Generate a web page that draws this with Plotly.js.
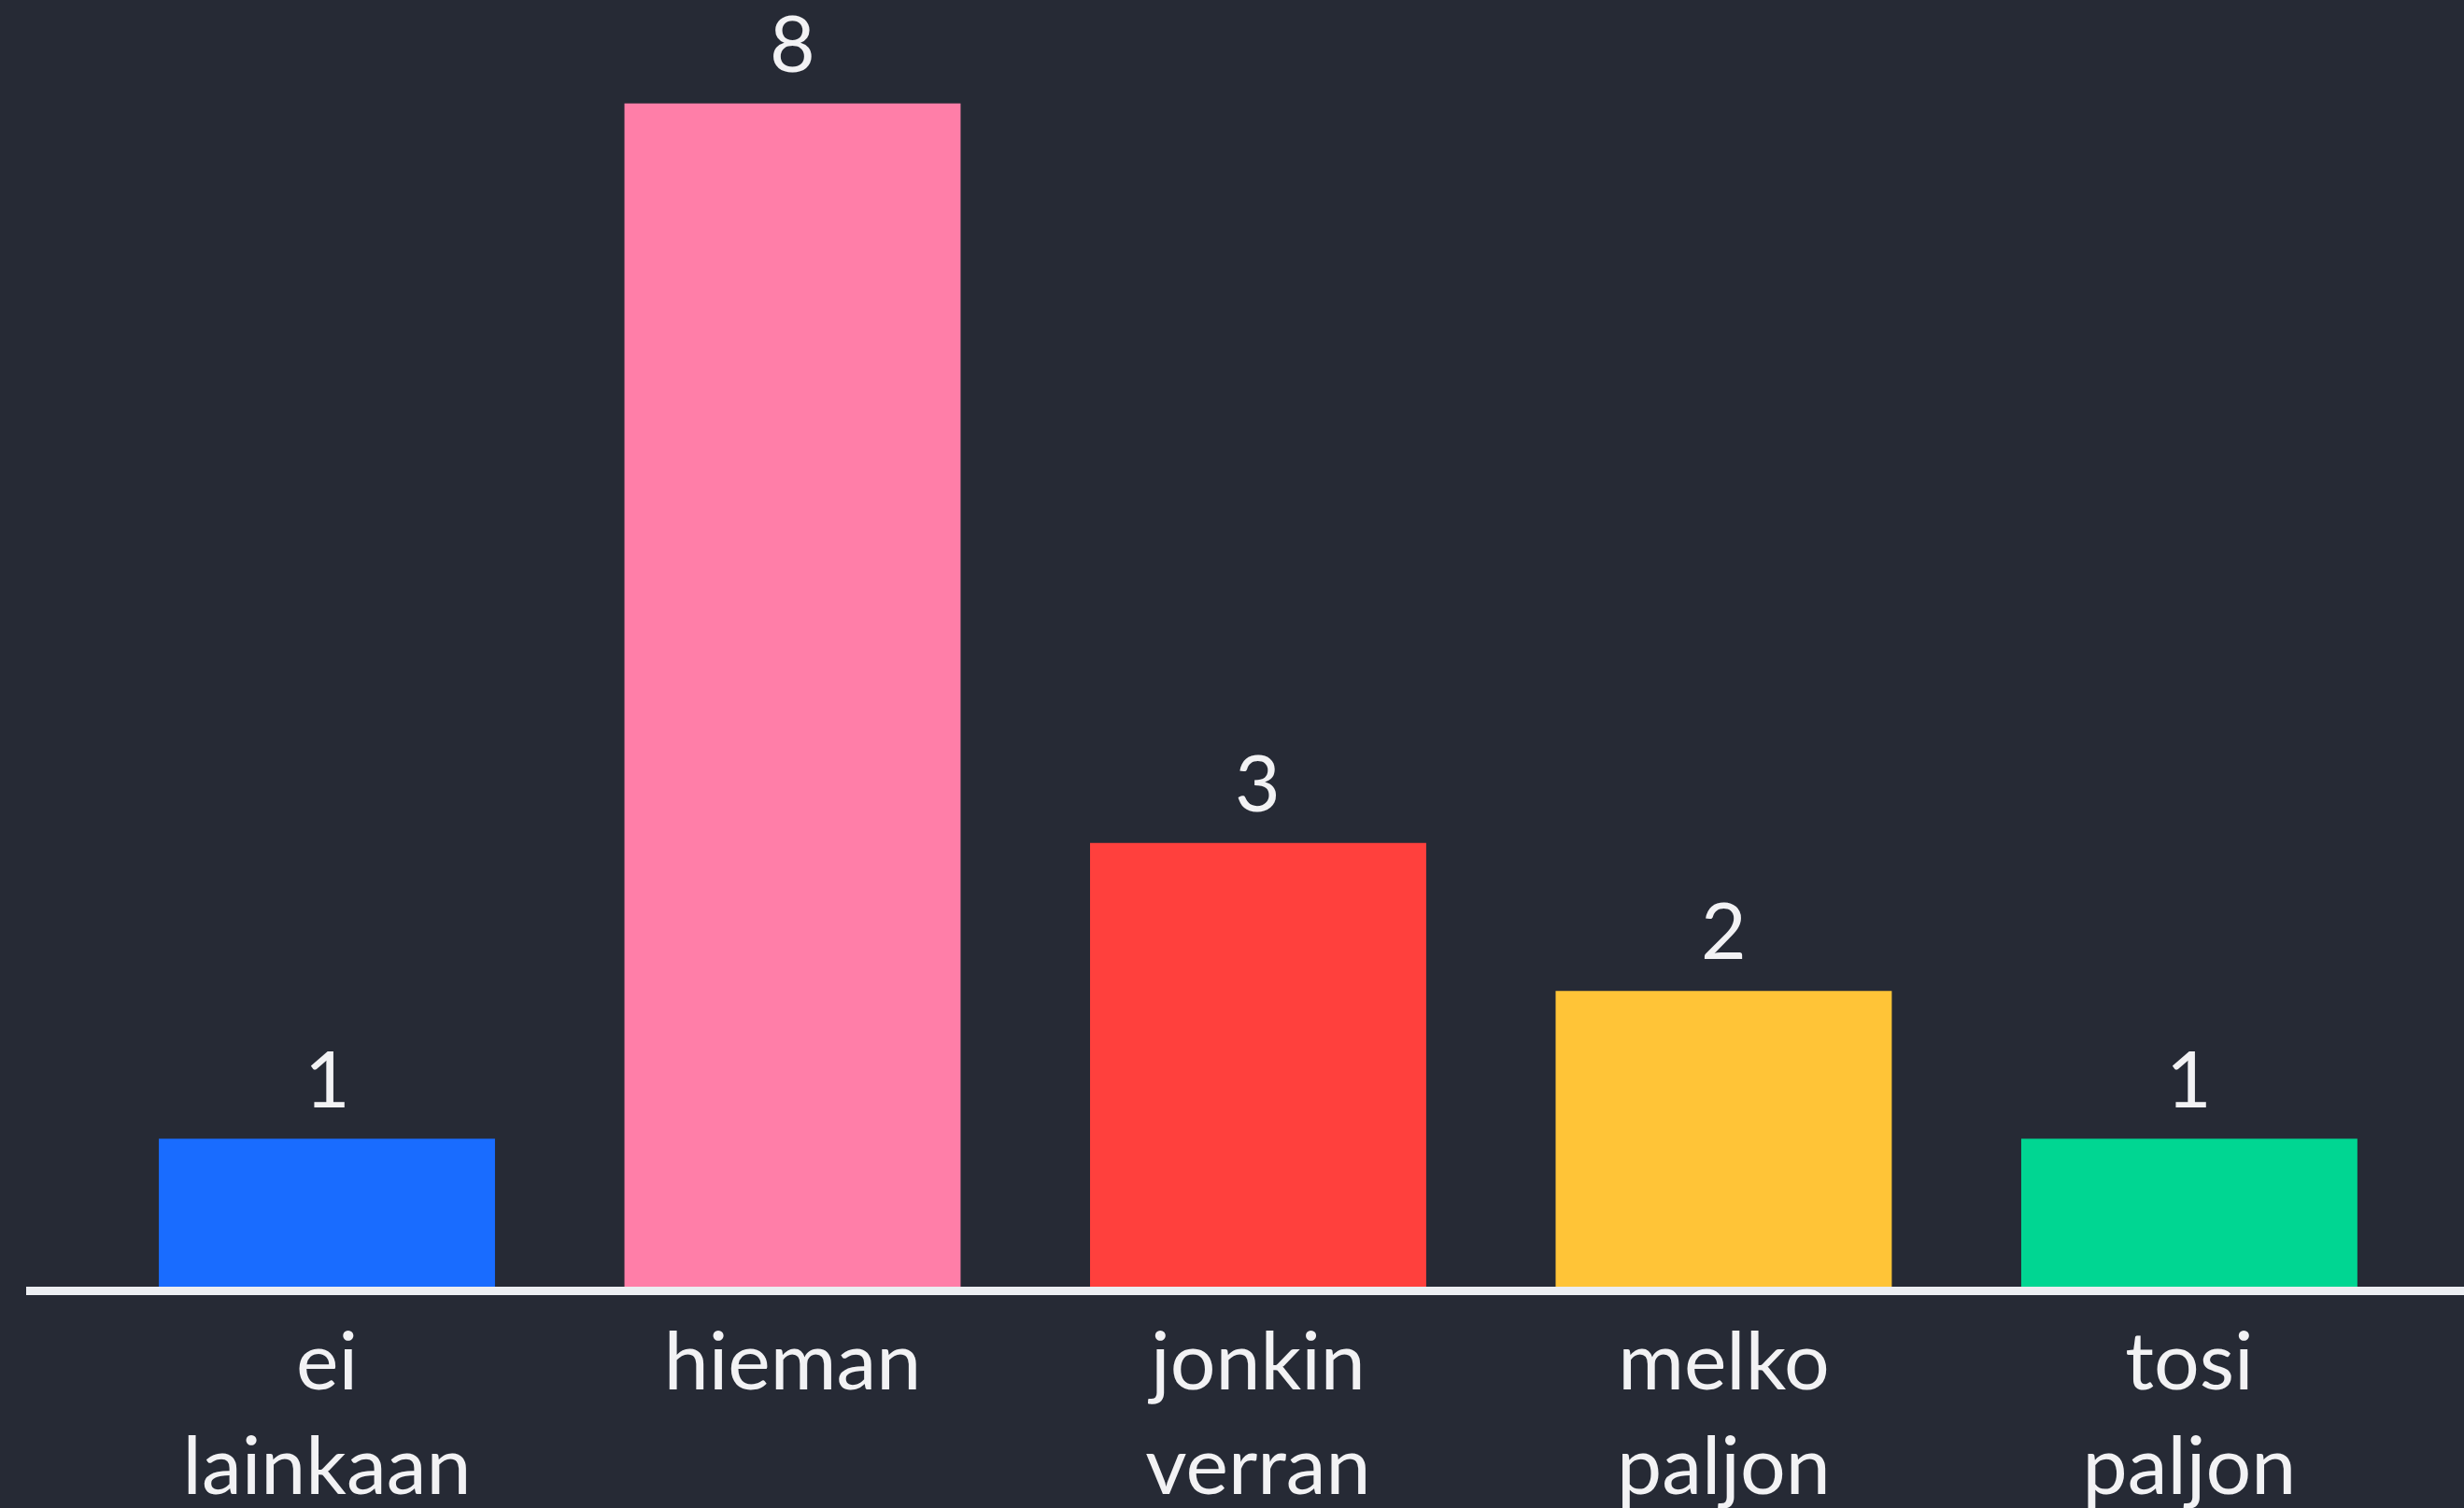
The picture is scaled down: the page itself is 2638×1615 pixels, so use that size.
<!DOCTYPE html>
<html>
<head>
<meta charset="utf-8">
<script src="https://cdn.plot.ly/plotly-3.0.1.min.js"></script>
<style>
html,body{margin:0;padding:0;background:#262a35;}
#chart{width:2638px;height:1615px;}
</style>
</head>
<body>
<div id="chart"></div>
<script>
const categories = ["ei<br>lainkaan", "hieman", "jonkin<br>verran", "melko<br>paljon", "tosi<br>paljon"];
const values = [1, 8, 3, 2, 1];
const colors = ["#196cff", "#ff7ea8", "#ff403d", "#ffc437", "#00d692"];

const FONT = "Lato, 'Noto Sans', sans-serif";

const trace = {
  type: "bar",
  x: categories,
  y: values,
  marker: {color: colors, line: {width: 0}},
  hoverinfo: "none"
};

const valueLabels = categories.map((c, i) => ({
  x: c,
  y: values[i],
  xref: "x",
  yref: "y",
  text: String(values[i]),
  showarrow: false,
  yanchor: "bottom",
  yshift: 14,
  font: {family: FONT, size: 84, color: "#f2f2f4"}
}));

const layout = {
  width: 2638,
  height: 1615,
  paper_bgcolor: "#262a35",
  plot_bgcolor: "#262a35",
  margin: {l: 28, r: 0, t: 0, b: 237, pad: 0},
  bargap: 0.278,
  showlegend: false,
  font: {family: FONT, color: "#f2f2f4"},
  annotations: valueLabels,
  xaxis: {
    type: "category",
    range: [-0.646, 4.59],
    showline: true,
    linecolor: "#eceef2",
    linewidth: 9,
    showgrid: false,
    zeroline: false,
    ticks: "",
    tickfont: {family: FONT, size: 86, color: "#f2f2f4"},
    ticklabelstandoff: -2,
    fixedrange: true
  },
  yaxis: {
    range: [0, 8.70],
    visible: false,
    showgrid: false,
    zeroline: false,
    fixedrange: true
  }
};

Plotly.newPlot("chart", [trace], layout, {displayModeBar: false, staticPlot: true});
</script>
</body>
</html>
